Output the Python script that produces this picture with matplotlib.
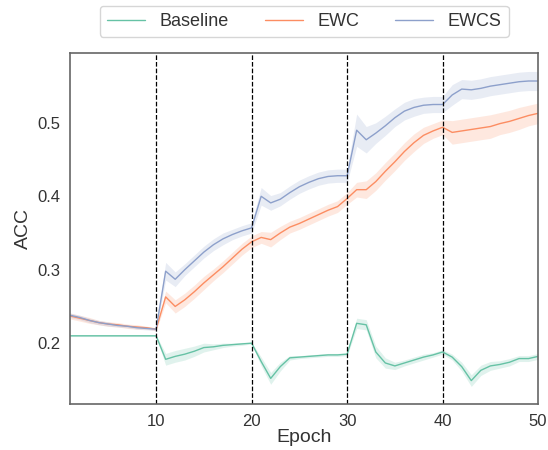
import matplotlib
matplotlib.use("Agg")
import matplotlib.pyplot as plt
import numpy as np
import seaborn as sns

sns.set_style("white")
plt.rcParams['font.family'] = ['Liberation Sans', 'DejaVu Sans']

epochs = list(range(1, 51))

baseline = [0.210] * 10 + [
    0.178, 0.182, 0.185, 0.189, 0.194, 0.195, 0.197, 0.198, 0.199, 0.200,
    0.175, 0.152, 0.168, 0.180, 0.181, 0.182, 0.183, 0.184, 0.184, 0.185,
    0.227, 0.225, 0.188, 0.173, 0.169, 0.173, 0.177, 0.181, 0.184, 0.188,
    0.181, 0.168, 0.149, 0.163, 0.169, 0.171, 0.174, 0.179, 0.179, 0.182]
baseline_sd = [0.001] * 10 + [
    0.008, 0.008, 0.008, 0.007, 0.006, 0.004, 0.003, 0.002, 0.002, 0.001,
    0.006, 0.008, 0.006, 0.003, 0.002, 0.002, 0.002, 0.002, 0.002, 0.002,
    0.007, 0.007, 0.008, 0.007, 0.005, 0.004, 0.004, 0.004, 0.003, 0.003,
    0.004, 0.006, 0.008, 0.007, 0.006, 0.005, 0.005, 0.004, 0.004, 0.004]

ewc = [
    0.237, 0.234, 0.231, 0.228, 0.226, 0.225, 0.223, 0.222, 0.221, 0.219,
    0.263, 0.250, 0.259, 0.270, 0.282, 0.293, 0.304, 0.316, 0.328, 0.338,
    0.344, 0.341, 0.350, 0.358, 0.363, 0.369, 0.375, 0.381, 0.386, 0.397,
    0.409, 0.409, 0.420, 0.434, 0.447, 0.461, 0.473, 0.483, 0.489, 0.494,
    0.487, 0.489, 0.491, 0.493, 0.495, 0.499, 0.502, 0.506, 0.510, 0.513]
ewc_sd = [
    0.004, 0.004, 0.004, 0.003, 0.003, 0.003, 0.003, 0.003, 0.002, 0.002,
    0.008, 0.009, 0.009, 0.009, 0.009, 0.008, 0.008, 0.008, 0.008, 0.008,
    0.008, 0.010, 0.009, 0.008, 0.008, 0.008, 0.008, 0.008, 0.008, 0.008,
    0.010, 0.012, 0.012, 0.012, 0.012, 0.012, 0.012, 0.011, 0.010, 0.010,
    0.016, 0.016, 0.016, 0.016, 0.016, 0.015, 0.015, 0.015, 0.014, 0.014]

ewcs = [
    0.238, 0.235, 0.231, 0.228, 0.226, 0.224, 0.223, 0.221, 0.220, 0.219,
    0.298, 0.287, 0.300, 0.312, 0.324, 0.334, 0.342, 0.348, 0.353, 0.357,
    0.400, 0.391, 0.396, 0.405, 0.413, 0.419, 0.424, 0.427, 0.428, 0.428,
    0.490, 0.477, 0.486, 0.496, 0.507, 0.516, 0.521, 0.524, 0.525, 0.525,
    0.538, 0.546, 0.545, 0.547, 0.550, 0.552, 0.554, 0.556, 0.557, 0.557]
ewcs_sd = [
    0.003, 0.003, 0.003, 0.003, 0.003, 0.002, 0.002, 0.002, 0.002, 0.002,
    0.012, 0.010, 0.008, 0.008, 0.008, 0.008, 0.008, 0.007, 0.007, 0.007,
    0.012, 0.010, 0.009, 0.009, 0.009, 0.009, 0.009, 0.009, 0.009, 0.009,
    0.022, 0.018, 0.014, 0.013, 0.012, 0.012, 0.012, 0.011, 0.011, 0.011,
    0.014, 0.013, 0.013, 0.013, 0.013, 0.013, 0.013, 0.013, 0.013, 0.013]

task_bounds = [10, 20, 30, 40]

colors = sns.color_palette("Set2", 3)
series = [("Baseline", baseline, baseline_sd),
          ("EWC", ewc, ewc_sd),
          ("EWCS", ewcs, ewcs_sd)]

fig = plt.figure(figsize=(5.48, 4.5), dpi=100)
ax = fig.add_axes([0.128, 0.102, 0.854, 0.780])

x = np.array(epochs)
for (name, m, s), c in zip(series, colors):
    m = np.array(m)
    s = np.array(s)
    ax.plot(x, m, color=c, lw=1, label=name)
    ax.fill_between(x, m - s, m + s, color=c, alpha=0.2, lw=0)

for b in task_bounds:
    ax.axvline(b, color="black", ls="--", lw=0.9)

for sp in ax.spines.values():
    sp.set_color("0.4")
    sp.set_linewidth(1.2)

ax.set_xlim(1, 50)
ax.set_ylim(0.117, 0.595)
ax.set_xticks([10, 20, 30, 40, 50])
ax.set_yticks([0.2, 0.3, 0.4, 0.5])
ax.tick_params(labelsize=12, labelcolor="0.2")
ax.set_xlabel("Epoch", fontsize=14, labelpad=0, color="0.2")
ax.set_ylabel("ACC", fontsize=14, color="0.2")

leg = ax.legend(loc="lower center", bbox_to_anchor=(0.5, 1.02), ncol=3,
                fontsize=13, frameon=True, handlelength=2.1,
                columnspacing=2.0, handletextpad=0.8)
for t in leg.get_texts():
    t.set_color("0.2")

fig.savefig("out.png", dpi=100)
